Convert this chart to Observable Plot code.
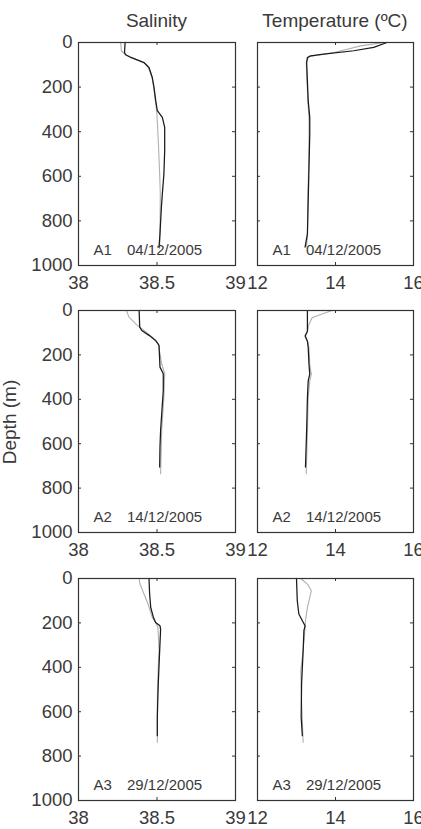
<!DOCTYPE html>
<html><head><meta charset="utf-8">
<script src="https://cdn.jsdelivr.net/npm/d3@7"></script>
<script src="https://cdn.jsdelivr.net/npm/@observablehq/plot@0.6"></script>
<style>
html,body{margin:0;padding:0;background:#fff;overflow:hidden}
#wrap{position:relative;width:421px;height:829px;overflow:hidden;font-family:"Liberation Sans",Arial,sans-serif;color:#3a3a3a}
.ttl{position:absolute;font-size:19px;line-height:19px;white-space:nowrap;transform:translateX(-50%)}
#ylab{position:absolute;font-size:19px;line-height:19px;white-space:nowrap;transform:translate(-50%,-50%) rotate(-90deg)}
</style></head>
<body><div id="wrap"></div>
<script>
// ---- data ----
const stations = ["A1", "A2", "A3"];
const dates = ["04/12/2005", "14/12/2005", "29/12/2005"];
const variables = ["Salinity", "Temperature (ºC)"];
const salTicks = [38, 38.5, 39];
const tempTicks = [12, 14, 16];
const depthTicks = [0, 200, 400, 600, 800, 1000];

// [depth (m), value]
const salA1Black = [[0,38.297],[45,38.293],[55,38.30],[67,38.333],[90,38.417],[112,38.449],[157,38.470],[201,38.481],[261,38.492],[306,38.502],[336,38.534],[381,38.549],[485,38.549],[590,38.544],[679,38.534],[739,38.528],[858,38.519],[918,38.513]];
const salA1Gray = [[0,38.269],[37,38.273],[52,38.294],[67,38.337],[90,38.417],[112,38.445],[157,38.468],[201,38.479],[261,38.489],[306,38.498],[381,38.504],[485,38.511],[590,38.517],[679,38.521],[858,38.519],[925,38.517]];
const tempA1Black = [[0,15.32],[22,14.98],[37,14.47],[52,13.70],[60,13.36],[67,13.28],[90,13.26],[261,13.30],[336,13.34],[410,13.34],[560,13.32],[709,13.30],[858,13.28],[918,13.22]];
const tempA1Gray = [[0,15.25],[15,14.64],[30,14.30],[45,13.96],[57,13.53],[64,13.32],[90,13.25],[261,13.29],[336,13.32],[485,13.32],[709,13.29],[858,13.28],[915,13.26]];

const salA2Black = [[0,38.386],[75,38.390],[90,38.403],[112,38.449],[135,38.491],[157,38.513],[255,38.519],[285,38.540],[360,38.540],[465,38.530],[540,38.523],[615,38.519],[705,38.517]];
const salA2Gray = [[0,38.305],[30,38.322],[60,38.364],[90,38.417],[120,38.470],[150,38.508],[240,38.530],[285,38.549],[390,38.544],[540,38.530],[735,38.523]];
const tempA2Black = [[0,13.28],[93,13.28],[115,13.22],[138,13.28],[167,13.30],[242,13.32],[287,13.34],[317,13.30],[392,13.28],[541,13.26],[705,13.23]];
const tempA2Gray = [[0,13.91],[18,13.62],[33,13.40],[63,13.32],[93,13.28],[115,13.23],[138,13.28],[167,13.32],[242,13.34],[287,13.38],[317,13.34],[392,13.30],[541,13.28],[735,13.25]];

const salA3Black = [[0,38.449],[70,38.453],[130,38.460],[175,38.477],[198,38.491],[213,38.519],[228,38.523],[325,38.517],[475,38.508],[625,38.502],[708,38.502]];
const salA3Gray = [[0,38.386],[25,38.392],[70,38.417],[115,38.443],[175,38.470],[198,38.491],[220,38.506],[325,38.513],[400,38.508],[550,38.502],[738,38.502]];
const tempA3Black = [[0,13.00],[100,13.02],[160,13.06],[190,13.15],[213,13.22],[235,13.19],[325,13.17],[475,13.13],[625,13.12],[708,13.15]];
const tempA3Gray = [[0,13.11],[25,13.28],[55,13.38],[85,13.34],[130,13.28],[190,13.23],[220,13.22],[325,13.17],[415,13.11],[550,13.13],[738,13.17]];

const profiles = [
  [[salA1Black, salA1Gray], [tempA1Black, tempA1Gray]],
  [[salA2Black, salA2Gray], [tempA2Black, tempA2Gray]],
  [[salA3Black, salA3Gray], [tempA3Black, tempA3Gray]]
];

// ---- layout ----
const cols = [{x0: 78, w: 157, domain: [38, 39], ticks: salTicks}, {x0: 257, w: 156, domain: [12, 16], ticks: tempTicks}];
const rows = [{y0: 42, h: 223}, {y0: 310, h: 222}, {y0: 578, h: 222}];
const ml = 50, mr = 20, mt = 6, mb = 34;
const wrap = document.getElementById("wrap");
const ink = "#3a3a3a";

rows.forEach((r, ri) => {
  cols.forEach((c, ci) => {
    const [black, gray] = profiles[ri][ci];
    const fw = c.w, fh = r.h;
    const marks = [
      Plot.line(gray, {x: d => d[1], y: d => d[0], stroke: "#b0b0b0", strokeWidth: 1.1}),
      Plot.line(black, {x: d => d[1], y: d => d[0], stroke: "#1a1a1a", strokeWidth: 1.25}),
      Plot.frame({stroke: "#333", strokeWidth: 1.2}),
      Plot.tickX(c.ticks, {x: d => d, insetTop: fh - 3, stroke: "#333"}),
      Plot.tickX(c.ticks, {x: d => d, insetBottom: fh - 3, stroke: "#333"}),
      Plot.tickY(depthTicks, {y: d => d, insetRight: fw - 3, stroke: "#333"}),
      Plot.tickY(depthTicks, {y: d => d, insetLeft: fw - 3, stroke: "#333"}),
      Plot.axisX({ticks: c.ticks, tickSize: 0, tickPadding: 10, tickFormat: d => String(d), label: null, fontSize: 18.5, fill: ink}),
      Plot.text([stations[ri]], {frameAnchor: "bottom-left", dx: 15, dy: -10.5, textAnchor: "start", fontSize: 15, fill: ink}),
      Plot.text([dates[ri]], {frameAnchor: "bottom-left", dx: 48.5, dy: -10.5, textAnchor: "start", fontSize: 15, fill: ink})
    ];
    if (ci === 0) marks.push(Plot.axisY({ticks: depthTicks, tickSize: 0, tickPadding: 6, tickFormat: d => String(d), label: null, fontSize: 18.5, fill: ink}));
    const svg = Plot.plot({
      width: ml + fw + mr, height: mt + fh + mb,
      marginLeft: ml, marginRight: mr, marginTop: mt, marginBottom: mb,
      x: {domain: c.domain},
      y: {domain: [0, 1000], reverse: true, axis: ci === 0 ? undefined : null},
      style: {background: "transparent", overflow: "visible", fontFamily: "'Liberation Sans', Arial, sans-serif", color: ink},
      marks
    });
    svg.style.position = "absolute";
    svg.style.left = (c.x0 - ml) + "px";
    svg.style.top = (r.y0 - mt) + "px";
    wrap.appendChild(svg);
  });
});

// titles
variables.forEach((v, i) => {
  const d = document.createElement("div");
  d.className = "ttl";
  d.textContent = v;
  d.style.left = (cols[i].x0 + cols[i].w / 2) + "px";
  d.style.top = "11px";
  wrap.appendChild(d);
});
const yl = document.createElement("div");
yl.id = "ylab";
yl.textContent = "Depth (m)";
yl.style.left = "9px";
yl.style.top = "422px";
wrap.appendChild(yl);
</script>
</body></html>
